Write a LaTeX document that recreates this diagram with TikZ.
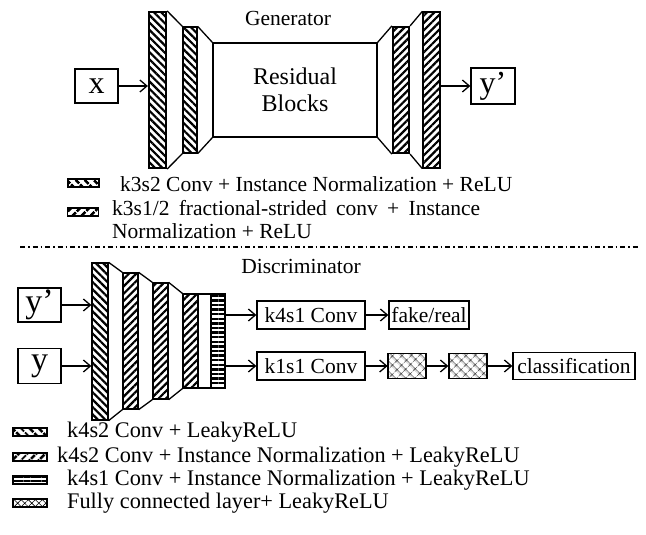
\documentclass[tikz,border=0pt]{standalone}
\usepackage{fontspec}
\setmainfont{Liberation Serif}
\usetikzlibrary{patterns.meta,arrows.meta}
\tikzset{
  lw/.style={line width=1.3pt},
  bx/.style={draw, lw, inner sep=1pt, fill=white},
  barA/.style={draw, lw, inner sep=0pt, pattern={Lines[angle=-45,distance=5.2pt,line width=2.2pt]}},
  barB/.style={draw, lw, inner sep=0pt, pattern={Lines[angle=45,distance=5.2pt,line width=2.2pt]}},
  barH/.style={draw, lw, inner sep=0pt, pattern={Lines[angle=0,distance=4.6pt,line width=2.4pt]}},
  barX/.style={draw, lw, inner sep=0pt, pattern={Hatch[angle=45,distance=6.5pt,line width=0.7pt]}},
  plain/.style={draw, lw, inner sep=0pt},
  arr/.style={lw, -{Straight Barb[length=7pt,width=12pt,line width=1.3pt]}},
  txt/.style={font=\rmfamily\fontsize{21.5}{25}\selectfont, inner sep=0pt},
  leg/.style={txt, anchor=base west},
  dleg/.style={leg, font=\rmfamily\fontsize{22.3}{25}\selectfont},
  icon/.style={draw, line width=1.6pt, inner sep=0pt, minimum width=31pt, minimum height=8pt}
}
\begin{document}
\begin{tikzpicture}[x=1pt,y=-1pt]
\useasboundingbox (0,0) rectangle (646,535);
% ---------------- Generator ----------------
\node[txt] (gtitle) at (288,18) {Generator};
\node[bx, minimum width=43pt, minimum height=34pt, font=\rmfamily\fontsize{32}{34}\selectfont] (x) at (96.5,86) {x};
\node[barA, minimum width=17pt, minimum height=156pt] (g1) at (157.5,90) {};
\node[barA, minimum width=14pt, minimum height=126pt] (g2) at (190,90) {};
\node[plain, minimum width=164pt, minimum height=94pt, align=center, font=\rmfamily\fontsize{24}{27}\selectfont] (res) at (295,90) {Residual\\Blocks};
\node[barB, minimum width=16pt, minimum height=126pt] (g3) at (401,90) {};
\node[barB, minimum width=17pt, minimum height=156pt] (g4) at (431.5,90) {};
\node[bx, minimum width=44pt, minimum height=36pt, font=\rmfamily\fontsize{32}{34}\selectfont] (yp) at (493,86) {y’};
\draw[lw] (g1.north east) -- (g2.north west) (g1.south east) -- (g2.south west);
\draw[lw] (g2.north east) -- (res.north west) (g2.south east) -- (res.south west);
\draw[lw] (res.north east) -- (g3.north west) (res.south east) -- (g3.south west);
\draw[lw] (g3.north east) -- (g4.north west) (g3.south east) -- (g4.south west);
\draw[arr] (x) -- (x -| g1.west);
\draw[arr] (yp -| g4.east) -- (yp);
% legend (generator)
\node[icon, pattern={Lines[angle=-45,distance=6.5pt,line width=2.8pt]}] (gi1) at (83.5,183) {};
\node[leg] (gl1) at (120,191) {k3s2 Conv + Instance Normalization + ReLU};
\node[icon, pattern={Lines[angle=45,distance=6.5pt,line width=2.8pt]}] (gi2) at (83,212) {};
\node[leg] (gl2) at (112,215) {\makebox[368pt][s]{k3s1/2 fractional-strided conv + Instance}};
\node[leg] (gl3) at (112,238) {Normalization + ReLU};
% separator
\coordinate (s1) at (20,247);
\coordinate (s2) at (640,247);
\draw[line width=1.2pt, dash pattern=on 5pt off 3pt on 1.5pt off 3pt] (s1) -- (s2);
% ---------------- Discriminator ----------------
\node[txt] (dtitle) at (301,266) {Discriminator};
\node[bx, minimum width=43pt, minimum height=34pt, font=\rmfamily\fontsize{34}{36}\selectfont] (dyp) at (39.5,305) {y’};
\node[bx, minimum width=43pt, minimum height=35pt, font=\rmfamily\fontsize{34}{36}\selectfont] (dy) at (39.5,366) {y};
\node[barA, minimum width=16pt, minimum height=157pt] (d1) at (100,341.5) {};
\node[barB, minimum width=15pt, minimum height=136pt] (d2) at (130.5,341) {};
\node[barB, minimum width=15pt, minimum height=116pt] (d3) at (160.5,341) {};
\node[barB, minimum width=15pt, minimum height=94pt] (d4) at (190.5,341) {};
\node[plain, minimum width=13pt, minimum height=94pt] (d4w) at (204.5,341) {};
\node[barH, minimum width=14pt, minimum height=94pt] (d5) at (218,341) {};
\draw[lw] (d1.north east) -- (d2.north west) (d1.south east) -- (d2.south west);
\draw[lw] (d2.north east) -- (d3.north west) (d2.south east) -- (d3.south west);
\draw[lw] (d3.north east) -- (d4.north west) (d3.south east) -- (d4.south west);
\draw[arr] (dyp) -- (dyp -| d1.west);
\draw[arr] (dy) -- (dy -| d1.west);
\node[bx, txt, minimum width=108pt, minimum height=28pt] (k4) at (311,315) {k4s1 Conv};
\node[bx, txt, minimum width=80pt, minimum height=28pt] (fr) at (429,315) {fake/real};
\node[bx, txt, minimum width=108pt, minimum height=28pt] (k1) at (311,366) {k1s1 Conv};
\node[barX, minimum width=38pt, minimum height=25pt] (fc1) at (407,366) {};
\node[barX, minimum width=38pt, minimum height=25pt] (fc2) at (468,366) {};
\node[bx, txt, minimum width=122pt, minimum height=27pt] (cls) at (574,366) {classification};
\draw[arr] (k4 -| d5.east) -- (k4);
\draw[arr] (k1 -| d5.east) -- (k1);
\draw[arr] (k4) -- (fr);
\draw[arr] (k1) -- (fc1);
\draw[arr] (fc1) -- (fc2);
\draw[arr] (fc2) -- (cls);
% legend (discriminator)
\node[icon, minimum width=34pt, pattern={Lines[angle=-45,distance=6.5pt,line width=2.8pt]}] (di1) at (30,432) {};
\node[dleg] (dl1) at (67,437) {k4s2 Conv + LeakyReLU};
\node[icon, minimum width=34pt, pattern={Lines[angle=45,distance=6.5pt,line width=2.8pt]}] (di2) at (30,457) {};
\node[dleg] (dl2) at (57,462) {k4s2 Conv + Instance Normalization + LeakyReLU};
\node[icon, minimum width=34pt, pattern={Lines[angle=0,distance=3.6pt,line width=1.8pt]}] (di3) at (30,480) {};
\node[dleg] (dl3) at (67,485) {k4s1 Conv + Instance Normalization + LeakyReLU};
\node[icon, minimum width=34pt, pattern={Hatch[angle=45,distance=5pt,line width=0.6pt]}] (di4) at (30,503) {};
\node[dleg] (dl4) at (67,508) {Fully connected layer+ LeakyReLU};
\end{tikzpicture}
\end{document}
